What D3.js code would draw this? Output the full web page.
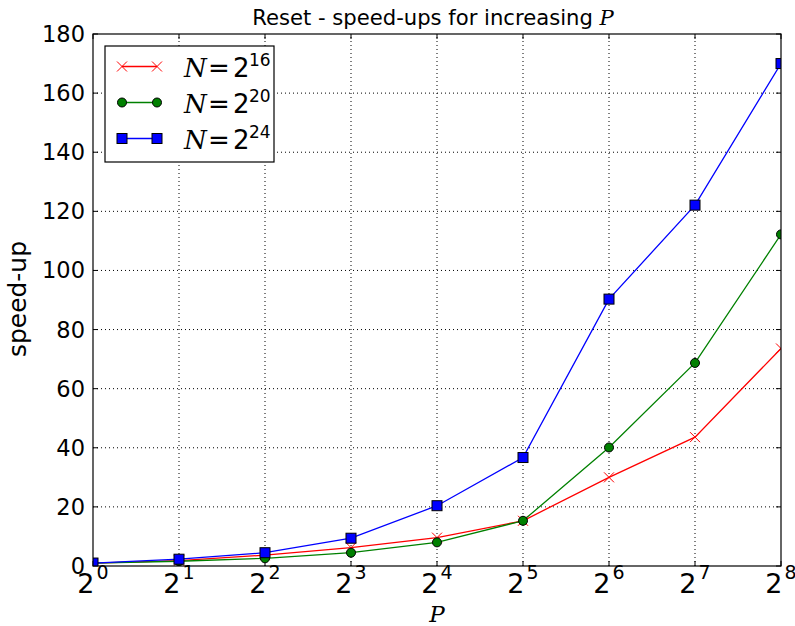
<!DOCTYPE html>
<html>
<head>
<meta charset="utf-8">
<script src="https://cdn.jsdelivr.net/npm/d3@7"></script>
<style>
  body { margin: 0; background: #fff; }
  text { font-family: "DejaVu Sans", sans-serif; }
  .math { font-family: "DejaVu Serif", "Liberation Serif", serif; font-style: italic; }
</style>
</head>
<body>
<svg id="chart"></svg>
<script>
// processor counts P = 2^0 .. 2^8
var procs = [1, 2, 4, 8, 16, 32, 64, 128, 256];
var n16 = [1, 1.8, 3.7, 6.2, 9.6, 15.3, 30.0, 43.6, 73.6];
var n20 = [1, 1.6, 2.6, 4.5, 8.0, 15.3, 40.1, 68.7, 112.2];
var n24 = [1, 2.3, 4.5, 9.4, 20.4, 36.7, 90.3, 122.1, 170.0];
var yTicks = [0, 20, 40, 60, 80, 100, 120, 140, 160, 180];
var xExps = [0, 1, 2, 3, 4, 5, 6, 7, 8];

var width = 795, height = 626;
var margin = { top: 34, right: 14, bottom: 60, left: 93 };

var svg = d3.select("#chart").attr("width", width).attr("height", height);

var x = d3.scaleLog().base(2)
          .domain([1, 256])
          .range([margin.left, width - margin.right]);

var y = d3.scaleLinear()
          .domain([0, 180])
          .range([height - margin.bottom, margin.top]);

var x0 = x.range()[0], x1 = x.range()[1];
var y0 = y.range()[0], y1 = y.range()[1];

// scale a text's font so it spans roughly the given width
function fit(sel, size, target) {
  sel.attr("font-size", size);
  var w = sel.node().getComputedTextLength();
  if (w > 0) sel.attr("font-size", size * target / w);
}

// grid
var grid = svg.append("g");
grid.selectAll(".gx").data(xExps.slice(1, -1)).enter().append("line")
    .attr("x1", function(d){ return x(Math.pow(2, d)); })
    .attr("x2", function(d){ return x(Math.pow(2, d)); })
    .attr("y1", y0).attr("y2", y1)
    .attr("stroke", "#000").attr("stroke-width", 1).attr("stroke-dasharray", "1,3");
grid.selectAll(".gy").data(yTicks.slice(1, -1)).enter().append("line")
    .attr("y1", function(d){ return y(d); })
    .attr("y2", function(d){ return y(d); })
    .attr("x1", x0).attr("x2", x1)
    .attr("stroke", "#000").attr("stroke-width", 1).attr("stroke-dasharray", "1,3");

// inward ticks on all four sides
var tickLen = 5;
var ticks = svg.append("g").attr("stroke", "#000").attr("stroke-width", 1);
xExps.forEach(function(e){
  var px = x(Math.pow(2, e));
  ticks.append("line").attr("x1", px).attr("x2", px).attr("y1", y0).attr("y2", y0 - tickLen);
  ticks.append("line").attr("x1", px).attr("x2", px).attr("y1", y1).attr("y2", y1 + tickLen);
});
yTicks.forEach(function(v){
  var py = y(v);
  ticks.append("line").attr("y1", py).attr("y2", py).attr("x1", x0).attr("x2", x0 + tickLen);
  ticks.append("line").attr("y1", py).attr("y2", py).attr("x1", x1).attr("x2", x1 - tickLen);
});

// y tick labels
var yl = svg.selectAll(".ylab").data(yTicks).enter().append("text")
   .attr("x", x0 - 8)
   .attr("y", function(d){ return y(d) + 8; })
   .attr("text-anchor", "end")
   .attr("font-size", 22)
   .text(function(d){ return d; });
fit(yl.filter(function(d){ return d === 180; }), 22, 43);
yl.attr("font-size", yl.filter(function(d){ return d === 180; }).attr("font-size"));

// x tick labels 2^k
var xl = svg.selectAll(".xlab").data(xExps).enter().append("text")
   .attr("x", function(d){ return x(Math.pow(2, d)); })
   .attr("y", y0 + 27)
   .attr("text-anchor", "middle")
   .attr("font-size", 27);
xl.append("tspan").text("2");
xl.append("tspan").attr("font-size", 19).attr("dx", 2).attr("dy", -14).text(function(d){ return d; });

// series
var series = [
  { name: "16", values: n16, color: "#ff0000", marker: "x" },
  { name: "20", values: n20, color: "#008000", marker: "o" },
  { name: "24", values: n24, color: "#0000ff", marker: "s" }
];

var line = d3.line()
  .x(function(d, i){ return x(procs[i]); })
  .y(function(d){ return y(d); });

function drawMarker(g, kind, color, cx, cy) {
  if (kind === "x") {
    g.append("path")
     .attr("d", "M" + (cx - 5) + "," + (cy - 5) + "L" + (cx + 5) + "," + (cy + 5) +
                "M" + (cx - 5) + "," + (cy + 5) + "L" + (cx + 5) + "," + (cy - 5))
     .attr("stroke", color).attr("stroke-width", 1).attr("fill", "none");
  } else if (kind === "o") {
    g.append("circle").attr("cx", cx).attr("cy", cy).attr("r", 4.5)
     .attr("fill", color).attr("stroke", "#000").attr("stroke-width", 1);
  } else {
    g.append("rect").attr("x", cx - 5).attr("y", cy - 5).attr("width", 10).attr("height", 10)
     .attr("fill", color).attr("stroke", "#000").attr("stroke-width", 1);
  }
}

svg.append("clipPath").attr("id", "clip").append("rect")
   .attr("x", x0).attr("y", y1).attr("width", x1 - x0).attr("height", y0 - y1);

var plot = svg.append("g").attr("clip-path", "url(#clip)");
series.forEach(function(s){
  plot.append("path").datum(s.values)
      .attr("d", line)
      .attr("fill", "none").attr("stroke", s.color).attr("stroke-width", 1.3);
  s.values.forEach(function(v, i){
    drawMarker(plot, s.marker, s.color, x(procs[i]), y(v));
  });
});

// frame
svg.append("rect").attr("x", x0).attr("y", y1).attr("width", x1 - x0).attr("height", y0 - y1)
   .attr("fill", "none").attr("stroke", "#000").attr("stroke-width", 1.2);

// title
var title = svg.append("text").attr("x", 433).attr("y", 25)
   .attr("text-anchor", "middle");
title.append("tspan").text("Reset - speed-ups for increasing ");
title.append("tspan").attr("class", "math").text("P");
fit(title, 20, 362);

// axis labels
svg.append("text").attr("class", "math").attr("x", (x0 + x1) / 2).attr("y", 622)
   .attr("text-anchor", "middle").attr("font-size", 23).text("P");
var ylab = svg.append("text").attr("transform", "translate(26,299) rotate(-90)")
   .attr("text-anchor", "middle").text("speed-up");
fit(ylab, 23, 116);

// legend
var lg = svg.append("g").attr("transform", "translate(105,46)");
lg.append("rect").attr("width", 169).attr("height", 116)
  .attr("fill", "#fff").attr("stroke", "#000").attr("stroke-width", 1.2);
series.forEach(function(s, i){
  var ly = 20.5 + i * 36;
  lg.append("line").attr("x1", 17).attr("x2", 52).attr("y1", ly).attr("y2", ly)
    .attr("stroke", s.color).attr("stroke-width", 1.3);
  drawMarker(lg, s.marker, s.color, 17, ly);
  drawMarker(lg, s.marker, s.color, 52, ly);
  lg.append("text").attr("class", "math").attr("x", 79).attr("y", ly + 10)
    .attr("font-size", 26).text("N");
  lg.append("text").attr("font-family", "DejaVu Serif").attr("x", 103).attr("y", ly + 10)
    .attr("font-size", 26).text("=");
  lg.append("text").attr("font-family", "DejaVu Serif").attr("x", 128).attr("y", ly + 10)
    .attr("font-size", 26).text("2");
  lg.append("text").attr("font-family", "DejaVu Serif").attr("x", 144).attr("y", ly - 1)
    .attr("font-size", 17).text(s.name);
});
</script>
</body>
</html>
